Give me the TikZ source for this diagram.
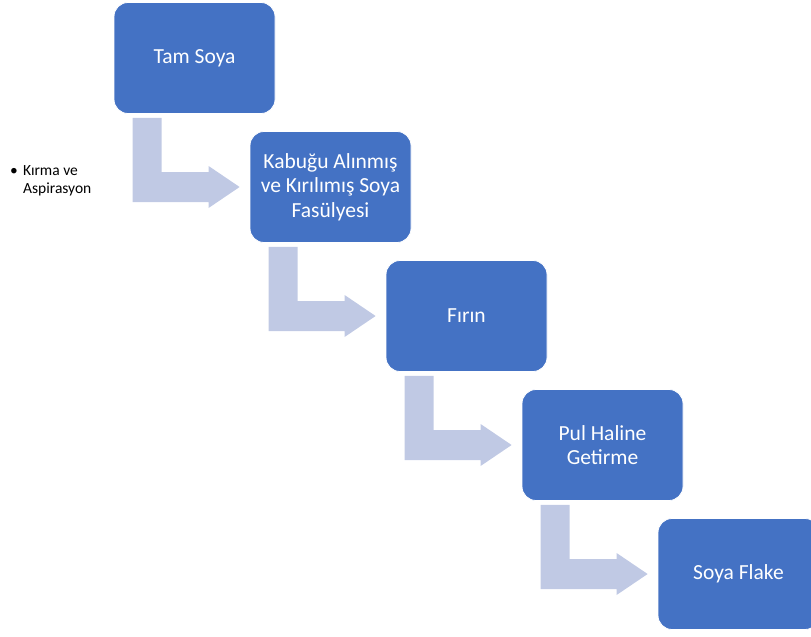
\documentclass[tikz,border=0pt]{standalone}
\usepackage{fontspec}
\setmainfont{Carlito}
\usetikzlibrary{calc}
\definecolor{kutumavi}{RGB}{68,114,196}
\definecolor{okmavi}{RGB}{192,201,228}
\tikzset{
  kutu/.style={rectangle,rounded corners=14pt,fill=kutumavi,draw=white,line width=0.8pt,
    minimum width=161pt,minimum height=111pt,text=white,align=center,
    font=\fontsize{21.5}{24.5}\selectfont},
  ok/.style={fill=okmavi}
}
\begin{document}
\begin{tikzpicture}[x=1pt,y=-1pt]
        \useasboundingbox (0,0) rectangle (811,637);

        % kutular
        \draw (194.5,58) node (tam) [kutu] {Tam Soya};
        \draw (330.5,187) node (kabuk) [kutu] {Kabuğu Alınmış\\ve Kırılımış Soya\\Fasülyesi};
        \draw (466.5,316) node (firin) [kutu] {Fırın};
        \draw (602.5,445) node (pul) [kutu] {Pul Haline\\Getirme};
        \draw (738.5,574) node (flake) [kutu] {Soya Flake};

        % oklar
        \fill[ok] ($(tam.south west)+(19,4)$) -- ($(tam.south west)+(48,4)$) |- ($(kabuk.west)+(-41,-15)$) -- ++(0,-6) -- ($(kabuk.west)+(-10,0)$) -- ($(kabuk.west)+(-41,21)$) -- ++(0,-6) -| ($(tam.south west)+(19,4)$) -- cycle;
        \fill[ok] ($(kabuk.south west)+(19,4)$) -- ($(kabuk.south west)+(48,4)$) |- ($(firin.west)+(-41,-15)$) -- ++(0,-6) -- ($(firin.west)+(-10,0)$) -- ($(firin.west)+(-41,21)$) -- ++(0,-6) -| ($(kabuk.south west)+(19,4)$) -- cycle;
        \fill[ok] ($(firin.south west)+(19,4)$) -- ($(firin.south west)+(48,4)$) |- ($(pul.west)+(-41,-15)$) -- ++(0,-6) -- ($(pul.west)+(-10,0)$) -- ($(pul.west)+(-41,21)$) -- ++(0,-6) -| ($(firin.south west)+(19,4)$) -- cycle;
        \fill[ok] ($(pul.south west)+(19,4)$) -- ($(pul.south west)+(48,4)$) |- ($(flake.west)+(-41,-15)$) -- ++(0,-6) -- ($(flake.west)+(-10,0)$) -- ($(flake.west)+(-41,21)$) -- ++(0,-6) -| ($(pul.south west)+(19,4)$) -- cycle;

        % yan not
        \draw (10,180.5) node (not) [anchor=west,align=left,inner sep=0pt,font=\fontsize{15.5}{18}\selectfont] {\makebox[13pt][l]{•}Kırma ve\\\hspace*{13pt}Aspirasyon};
\end{tikzpicture}
\end{document}
